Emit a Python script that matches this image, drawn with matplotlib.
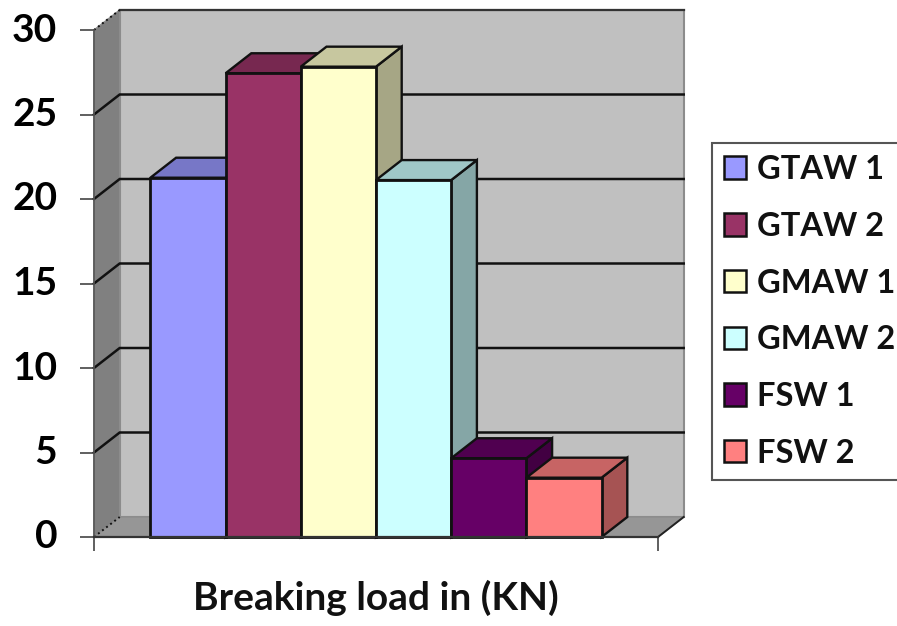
import matplotlib
matplotlib.use("Agg")
import matplotlib.pyplot as plt
from matplotlib.patches import Polygon, Patch
from matplotlib.colors import to_rgb

series = ["GTAW 1", "GTAW 2", "GMAW 1", "GMAW 2", "FSW 1", "FSW 2"]
values = [21.26, 27.44, 27.83, 21.12, 4.66, 3.51]
colors = ["#9999FF", "#993366", "#FFFFCC", "#CCFFFF", "#660066", "#FF8080"]
y_ticks = [0, 5, 10, 15, 20, 25, 30]
x_label = "Breaking load in (KN)"

W, H = 897, 626
plt.rcParams["font.family"] = ["Lato", "DejaVu Sans"]
fig = plt.figure(figsize=(W / 100, H / 100), dpi=100)
ax = fig.add_axes([94 / W, (H - 537) / H, (658 - 94) / W, (537 - 30) / H])

gap = 0.75
x0, x1 = -gap, len(values) + gap
ymax = y_ticks[-1]
ax.set_xlim(x0, x1)
ax.set_ylim(0, ymax)

# depth of the pseudo-3D box, expressed in data units
dx = 25.7 * (x1 - x0) / 564
dy = 20.0 * ymax / 507


def poly(pts, face, zorder, edge="#111111", lw=1.7, **kw):
    ax.add_patch(Polygon(pts, closed=True, facecolor=face, edgecolor=edge,
                         linewidth=lw, zorder=zorder, clip_on=False,
                         joinstyle="miter", **kw))


def shade(c, f):
    return tuple(v * f for v in to_rgb(c))


# walls and floor
poly([(x0 + dx, dy), (x1 + dx, dy), (x1 + dx, ymax + dy), (x0 + dx, ymax + dy)],
     "#C0C0C0", 1, edge="#8C8C8C", lw=1.5)
poly([(x0, 0), (x0 + dx, dy), (x0 + dx, ymax + dy), (x0, ymax)],
     "#808080", 1, edge="#8C8C8C", lw=1.0)
poly([(x0, 0), (x1, 0), (x1 + dx, dy), (x0 + dx, dy)],
     "#969696", 1, edge="#8C8C8C", lw=1.0)

# gridlines running along side wall and back wall
for t in y_ticks[1:-1]:
    ax.plot([x0, x0 + dx, x1 + dx], [t, t + dy, t + dy], color="#111111",
            lw=1.8, zorder=2, clip_on=False, solid_joinstyle="miter")
ax.plot([x0 + dx, x1 + dx], [ymax + dy, ymax + dy], color="#333333", lw=1.6,
        zorder=2, clip_on=False)
ax.plot([x0, x0 + dx], [ymax, ymax + dy], color="#111111", lw=1.4, ls=":",
        zorder=2, clip_on=False)
ax.plot([x0, x0 + dx], [0, dy], color="#111111", lw=1.4, ls=":", zorder=2,
        clip_on=False)
ax.plot([x1, x1 + dx], [0, dy], color="#222222", lw=1.4, zorder=2, clip_on=False)

# bars, painted left to right
for i, (v, c) in enumerate(zip(values, colors)):
    z = 3 + i
    l, r = i, i + 1
    poly([(r, 0), (r + dx, dy), (r + dx, v + dy), (r, v)], shade(c, 0.65), z)
    poly([(l, v), (r, v), (r + dx, v + dy), (l + dx, v + dy)], shade(c, 0.78), z)
    poly([(l, 0), (r, 0), (r, v), (l, v)], c, z + 0.5, lw=2.0)

# axes
for s in ("top", "right"):
    ax.spines[s].set_visible(False)
ax.spines["left"].set_color("#555555")
ax.spines["left"].set_linewidth(1.2)
ax.spines["bottom"].set_color("#333333")
ax.spines["bottom"].set_linewidth(1.6)
ax.spines["bottom"].set_zorder(20)
ax.patch.set_alpha(0)
ax.set_yticks(y_ticks)
ax.set_xticks([x0, x1])
ax.set_xticklabels([])
ax.tick_params(axis="y", length=10, width=1.2, color="#444444", pad=16.5,
               labelsize=28, labelcolor="black")
ax.tick_params(axis="x", length=10, width=1.2, color="#444444")
for t in ax.get_yticklabels():
    t.set_fontweight("bold")
    t.set_verticalalignment("center")
ax.set_xlabel(x_label, fontsize=28, fontweight="bold", labelpad=17, color="#111111")

# legend
fs = 23.5
px = fs * 100 / 72
handles = [Patch(facecolor=c, edgecolor="#111111", linewidth=1.8) for c in colors]
leg = ax.legend(handles, series, loc="upper left",
                bbox_to_anchor=(712 / W, (H - 143) / H),
                bbox_transform=fig.transFigure, borderaxespad=0,
                prop={"weight": "bold", "size": fs},
                handlelength=22 / px, handleheight=22 / px, handletextpad=11 / px,
                borderpad=0.37, labelspacing=0.85, fancybox=False, framealpha=1,
                edgecolor="#555555")
leg.get_frame().set_linewidth(1.5)
leg.set_zorder(30)
for t in leg.get_texts():
    t.set_color("#111111")

fig.savefig("out.png", dpi=100)
